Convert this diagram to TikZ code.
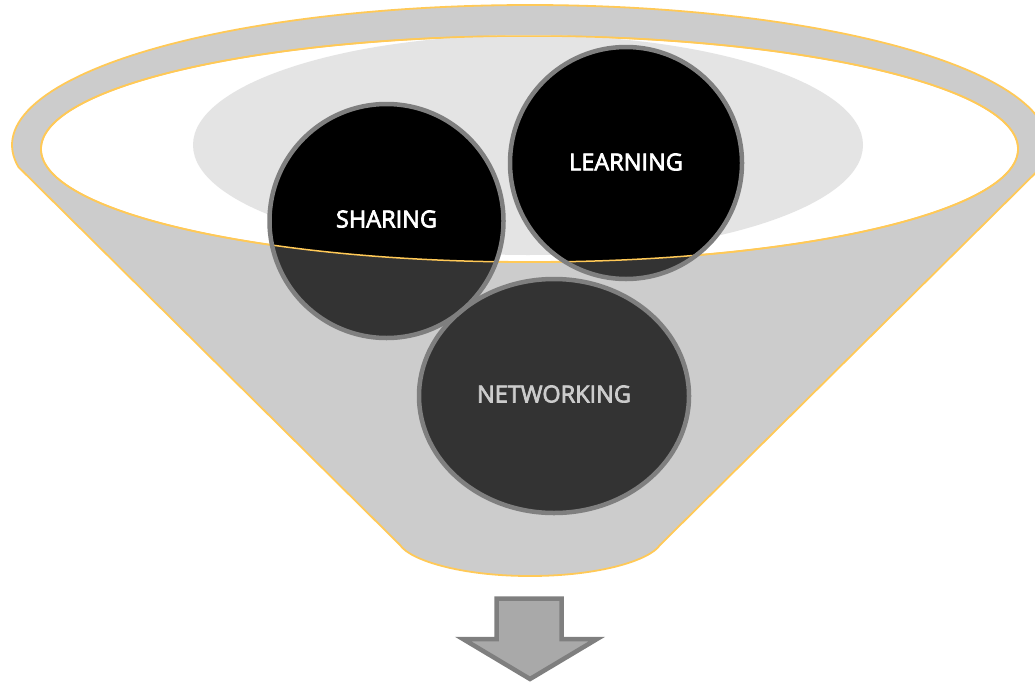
\documentclass[tikz,border=0pt]{standalone}
\usepackage{fontspec}
\setmainfont{Open Sans}
\newfontfamily\lblfont[FakeBold=3]{Open Sans}
\usetikzlibrary{shapes.geometric}
\definecolor{funnel}{HTML}{CCCCCC}
\definecolor{rim}{HTML}{FFC957}
\definecolor{haze}{HTML}{E4E4E4}
\definecolor{ringgray}{HTML}{7F7F7F}
\definecolor{lower}{HTML}{333333}
\definecolor{arrowfill}{HTML}{A9A9A9}
\tikzset{
  rimline/.style={draw=rim, line width=1.8pt},
  ball/.style={draw=ringgray, line width=4.5pt, inner sep=0pt},
  lbl/.style={font=\lblfont\fontsize{23.5}{24}\selectfont},
}
\begin{document}
\begin{tikzpicture}[x=1pt,y=-1pt]
\useasboundingbox (0,0) rectangle (1035,688);
\begin{scope}
\clip (0,0) rectangle (1035,688);
% funnel body with outer rim
\path[fill=funnel, rimline] plot[domain=189.04:-9.04, samples=120] ({530+518*cos(\x)},{145-140*sin(\x)})
  -- (660,545) .. controls (650,560) and (600,576) .. (530,576)
  .. controls (460,576) and (410,560) .. (400,545) -- cycle;
% inner opening
\path[fill=white, rimline] (529.5,149) ellipse[x radius=488.5, y radius=113];
\fill[haze] (528,145) ellipse[x radius=335, y radius=110];
% balls, upper part black
\fill[black] (386.5,221) circle[radius=117];
\fill[black] (626,163) circle[radius=116];
\fill[black] (554,396) ellipse[x radius=135, y radius=117];
% lower part dark gray (outside the opening)
\begin{scope}[even odd rule]
\clip (0,0) rectangle (1035,688) (529.5,149) ellipse[x radius=488.5, y radius=113];
\fill[lower] (386.5,221) circle[radius=117];
\fill[lower] (626,163) circle[radius=116];
\fill[lower] (554,396) ellipse[x radius=135, y radius=117];
\end{scope}
% redraw opening rim line over balls
\draw[rim, line width=1.5pt] (529.5,149) ellipse[x radius=488.5, y radius=113];
\end{scope}
% ball borders and labels
\node[ball, circle, minimum size=234pt] (sharing) at (386.5,221) {};
\node[ball, circle, minimum size=232pt] (learning) at (626,163) {};
\node[ball, ellipse, minimum width=270pt, minimum height=234pt] (networking) at (554,396) {};
\node[lbl, text=white] at (386.5,219) {SHARING};
\node[lbl, text=white] at (626,162) {LEARNING};
\node[lbl, text=funnel] at (554,394) {NETWORKING};
% arrow
\draw[fill=arrowfill, draw=ringgray, line width=4.5pt, line join=miter]
  (496.5,598.5) -- (561.5,598.5) -- (561.5,639) -- (597,639) -- (530,679) -- (463,639) -- (496.5,639) -- cycle;
\end{tikzpicture}
\end{document}
